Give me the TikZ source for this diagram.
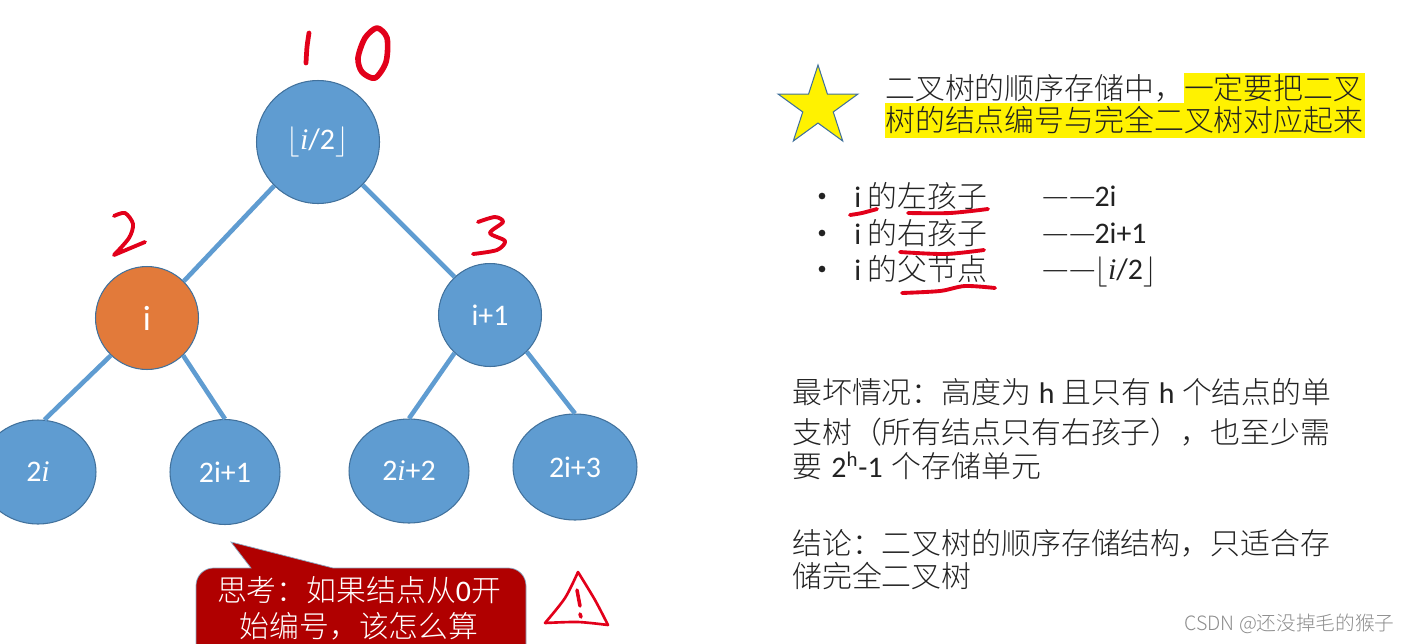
\documentclass[tikz,border=0pt]{standalone}
\usepackage{fontspec}
\usepackage{amsmath}
\usepackage{tikz}
\usetikzlibrary{shapes.geometric}
\setmainfont{Carlito}
\newfontfamily\cjk{Noto Sans CJK SC Light}
\newfontfamily\mathi{Liberation Serif}
\newcommand{\zh}[1]{{\cjk #1}}
\newcommand{\mi}{{\mathi\itshape i}}
\newcommand{\floori}{$\lfloor$\mi/2\kern0.5pt$\rfloor$}
\newcommand{\dashes}{\zh{—}\kern0.6pt\zh{—}\kern-1pt}
\definecolor{treeblue}{HTML}{5F9CD1}
\definecolor{treeedge}{HTML}{41719C}
\definecolor{treeorange}{HTML}{E27A3A}
\definecolor{calloutred}{HTML}{B00000}
\definecolor{handred}{HTML}{E2001A}
\definecolor{textgrey}{HTML}{222222}
\tikzset{
	treenode/.style={circle,fill=treeblue,draw=treeedge,line width=0.6pt,text=white,inner sep=0pt,font=\fontsize{17}{20}\selectfont},
	leafnode/.style={ellipse,fill=treeblue,draw=treeedge,line width=0.6pt,text=white,inner sep=0pt,font=\fontsize{17}{20}\selectfont},
	treeline/.style={treeblue,line width=2.6pt},
	hand/.style={handred,line width=2.2pt,line cap=round,line join=round},
	txt/.style={anchor=west,inner sep=0pt,text=textgrey,font=\fontsize{17}{20}\selectfont},
	calltxt/.style={text=white,inner sep=0pt,font=\fontsize{17}{20}\selectfont},
	dotitem/.style={circle,fill=textgrey,inner sep=0pt,minimum size=3.8pt}
}
\begin{document}
\begin{tikzpicture}[x=0.02cm,y=-0.02cm]
	\useasboundingbox (0,0) rectangle (1410,643);
	\clip (0,0) rectangle (1410,643);
	% tree
	\node[treenode,minimum size=2.46cm] (root) at (318,142) {\floori};
	\node[treenode,fill=treeorange,minimum size=2.06cm,font=\fontsize{20}{22}\selectfont] (nodei) at (147,318) {i};
	\node[treenode,minimum size=2.06cm] (nodeplus) at (490,315) {i+1};
	\node[leafnode,minimum width=2.32cm,minimum height=2.08cm] (left) at (38,472) {2\mi};
	\node[leafnode,minimum width=2.2cm,minimum height=2.1cm] (leftr) at (225,472) {2i+1};
	\node[leafnode,minimum width=2.4cm,minimum height=2.08cm] (rightl) at (409,471) {2\mi+2};
	\node[leafnode,minimum width=2.48cm,minimum height=2.12cm] (rightr) at (575,467) {2i+3};
	\draw[treeline] (root.225) -- (nodei.45);
	\draw[treeline] (root.-44) -- (nodeplus.133);
	\draw[treeline] (nodei.226) -- (left.83);
	\draw[treeline] (nodei.-46) -- (leftr.90);
	\draw[treeline] (nodeplus.227) -- (rightl.90);
	\draw[treeline] (nodeplus.-45) -- (rightr.90);
	% numbers written by hand
	\draw[hand,line width=2.7pt] plot[smooth] coordinates {(309,33) (307,47) (306,63)};
	\draw[hand,line width=3.2pt] plot[smooth cycle] coordinates {(377,28) (387,38) (386,62) (375,78) (362,72) (358,58) (365,38)};
	\draw[hand] plot[smooth] coordinates {(114,216) (125,213) (133,224) (129,238) (114,255)} -- (145,242);
	\draw[hand] plot[smooth] coordinates {(478,222) (495,217) (503,222) (490,233) (505,241) (497,250) (473,254)};
	% callout
	\draw[fill=calloutred,draw=treeedge!60,line width=0.4pt] (231,542) -- (333,568) [rounded corners=10pt] -- (526,568) -- (526,680) -- (196,680) -- (196,568) [sharp corners] -- (251,568) -- cycle;
	\node[calltxt] (callone) at (359,590) {\zh{思考：如果结点从}0\zh{开}};
	\node[calltxt] (calltwo) at (359,626) {\zh{始编号，该怎么算}};
	% warning sign
	\draw[hand,line width=1.5pt] plot[smooth] coordinates {(578,572) (565,598) (545,623)} -- plot[smooth] coordinates {(545,623) (578,622) (608,625)} -- plot[smooth] coordinates {(608,625) (595,600) (578,572)};
	\draw[hand,line width=2pt] (577,590) -- (580,606);
	\draw[hand,line width=2pt] (580,614) -- (581,617);
	% star and highlighted text
	\node[star,star points=5,star point ratio=2.618,fill=yellow,draw=treeedge,line width=0.6pt,minimum size=1.68cm,inner sep=0pt] (mark) at (818,107) {};
	\fill[yellow] (1184,73) rectangle (1365,103);
	\fill[yellow] (885,103) rectangle (1365,138);
	\node[txt] (headone) at (885,88) {\zh{二叉树的顺序存储中，一定要把二叉}};
	\node[txt] (headtwo) at (885,120) {\zh{树的结点编号与完全二叉树对应起来}};
	% list
	\node[dotitem] (dotone) at (822,196) {};
	\node[dotitem] (dottwo) at (822,233) {};
	\node[dotitem] (dotthree) at (822,269) {};
	\node[txt] (itemone) at (854,196) {i \zh{的左孩子}};
	\node[txt] (itemtwo) at (854,233) {i \zh{的右孩子}};
	\node[txt] (itemthree) at (854,269) {i \zh{的父节点}};
	\node[txt] (valone) at (1042,196) {\dashes 2i};
	\node[txt] (valtwo) at (1042,233) {\dashes 2i+1};
	\node[txt] (valthree) at (1042,279) {\smash{\dashes\floori}};
	\draw[hand] plot[smooth] coordinates {(850,215) (862,213) (877,209)};
	\draw[hand] plot[smooth] coordinates {(908,213) (950,213) (988,209)};
	\draw[hand] plot[smooth] coordinates {(900,252) (945,254) (984,250)};
	\draw[hand] plot[smooth] coordinates {(902,293) (940,291) (965,286) (995,288)};
	% paragraphs
	\node[txt] (worstone) at (792,392) {\zh{最坏情况：高度为}\kern0.4pt\ h\kern0.4pt\ \zh{且只有}\kern0.4pt\ h\kern0.4pt\ \zh{个结点的单}};
	\node[txt] (worsttwo) at (792,432) {\zh{支树（所有结点只有右孩子），也至少需}};
	\node[txt] (worstthree) at (792,466) {\zh{要}\kern1.4pt\ 2\textsuperscript{h}-1\kern1.4pt\ \zh{个存储单元}};
	\node[txt] (endone) at (792,543) {\zh{结论：二叉树的顺序存储结构，只适合存}};
	\node[txt] (endtwo) at (792,576) {\zh{储完全二叉树}};
	% watermark
	\node[anchor=east,inner sep=0pt,text=black!45,font=\fontsize{11.2}{12}\selectfont] (wmark) at (1395,624) {\zh{CSDN @还没掉毛的猴子}};
\end{tikzpicture}
\end{document}
